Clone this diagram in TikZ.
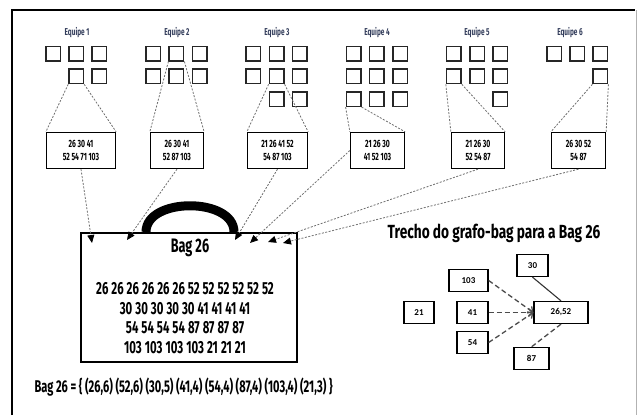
\documentclass[tikz,border=0pt]{standalone}
\usepackage{fontspec}
\usetikzlibrary{arrows.meta}
\newfontfamily\condfont[FakeStretch=0.65]{Fira Sans}
\newfontfamily\widefont[FakeStretch=0.72]{Fira Sans}
\newfontfamily\nodefont{Carlito}
\newcommand\bagnumfont{\condfont\bfseries\fontsize{17.5}{19.7}\selectfont\spaceskip 3pt\relax}
\definecolor{teamblue}{RGB}{52,62,92}
\definecolor{dashgray}{RGB}{110,110,110}
\tikzset{
  cell/.style={draw=black!85,line width=1.5pt,minimum size=14.5pt,inner sep=0pt},
  teamlabel/.style={text=teamblue,font=\condfont\bfseries\fontsize{10}{11}\selectfont},
  listbox/.style={draw,line width=1.3pt,minimum height=36pt,inner sep=1pt,align=center,
    font=\condfont\bfseries\fontsize{10.5}{13}\selectfont},
  feed/.style={dashgray,line width=0.8pt,dash pattern=on 2pt off 1.5pt},
  into/.style={feed,-{Triangle[length=8pt,width=7pt,black]}},
  gnode/.style={draw,line width=1.3pt,minimum height=22pt,inner sep=0pt,
    font=\nodefont\bfseries\fontsize{9}{10}\selectfont},
  gedge/.style={black!70,line width=1.3pt,dash pattern=on 5pt off 3pt},
}
\begin{document}
\begin{tikzpicture}[x=1pt,y=-1pt]
    \useasboundingbox (0,0) rectangle (637,415);

    %frame of the page
    \draw[line width=2pt] (12,415) -- (12,10) -- (635,10);
    \draw[black!30,line width=0.8pt] (636,10) -- (636,415);

    %the members of each team
    \foreach \t/\x in {1/77,2/177,3/277,4/377,5/477,6/570}
        \node[teamlabel] (e\t) at (\x,33) {Equipe \t};
    \foreach \t/\cells in {1/{1/0,1/1,1/2,2/1,2/2},
                           2/{1/0,1/1,1/2,2/0,2/1,2/2},
                           3/{1/0,1/1,1/2,2/0,2/1,2/2,3/1,3/2},
                           4/{1/0,1/1,1/2,2/0,2/1,2/2,3/0,3/1,3/2},
                           5/{1/0,1/1,1/2,2/0,2/1,2/2,3/2},
                           6/{1/0,1/1,1/2,2/2}}
        \foreach \r/\c in \cells
            \node[cell] (q\t-\r-\c) at ({53+100.2*(\t-1)+23.2*\c},{53.5+22.8*(\r-1)}) {};

    %lists of the chosen member
    \node[listbox,minimum width=69pt] (b1) at (81,150.5) {26 30 41\\52 54 71 103};
    \node[listbox,minimum width=53pt] (b2) at (177,150.5) {26 30 41\\52 87 103};
    \node[listbox,minimum width=60pt] (b3) at (277.5,150.5) {21 26 41 52\\54 87 103};
    \node[listbox,minimum width=54pt] (b4) at (377.5,150.5) {21 26 30\\41 52 103};
    \node[listbox,minimum width=53pt] (b5) at (478,150.5) {21 26 30\\52 54 87};
    \node[listbox,minimum width=54pt] (b6) at (578.5,150.5) {26 30 52\\54 87};

    \foreach \t/\r/\c in {1/2/1,2/1/1,3/2/1,4/3/0,5/2/0,6/2/2} {
        \draw[feed] (q\t-\r-\c.south west) -- (b\t.north west);
        \draw[feed] (q\t-\r-\c.south east) -- (b\t.north east);
    }

    %the bag
    \draw[line width=9pt] (146,232) .. controls (146,197) and (234,197) .. (234,232);
    \node[draw,fill=white,line width=2pt,minimum width=216pt,minimum height=129pt] (bag) at (189,297.5) {};
    \node[font=\condfont\bfseries\fontsize{19.5}{21}\selectfont] (bagtitle) at (190,248) {Bag 26};
    \node[align=center,font=\bagnumfont] (bagnums) at (185,318)
        {26 26 26 26 26 26 52 52 52 52 52 52\\30 30 30 30 30 41 41 41 41\\
         54 54 54 54 87 87 87 87\\103 103 103 103 21 21 21};

    %arrows into the bag
    \coordinate (t1) at (92,243);
    \coordinate (t2) at (127,240);
    \coordinate (t3) at (235,240);
    \coordinate (t4) at (250,243);
    \coordinate (t5) at (268,242);
    \coordinate (t6) at (283,243);
    \draw[into] (b1.south) -- (t1);
    \draw[into] (b2.south) -- (t2);
    \draw[into] (b3.south) -- (t3);
    \draw[into] (b4.west) -- (t4);
    \draw[into] (b5.south) -- (t5);
    \draw[into] (b6.south) -- (t6);

    \node[anchor=west,font=\condfont\bfseries\fontsize{17}{19}\selectfont] (bagset) at (31,387)
        {Bag 26 = \{ (26,6) (52,6) (30,5) (41,4) (54,4) (87,4) (103,4) (21,3) \}};

    %piece of the bag graph
    \node[font=\widefont\bfseries\fontsize{19}{21}\selectfont] (gtitle) at (494,233) {Trecho do grafo-bag para a Bag 26};
    \node[gnode,minimum width=31pt] (n30) at (532.5,265.5) {30};
    \node[gnode,minimum width=39pt] (n103) at (468.5,280.5) {103};
    \node[gnode,minimum width=30pt] (n21) at (419,312.5) {21};
    \node[gnode,minimum width=31pt] (n41) at (472.5,312.5) {41};
    \node[gnode,minimum width=54pt] (n2652) at (561,312.5) {26,52};
    \node[gnode,minimum width=31pt] (n54) at (472.5,342.5) {54};
    \node[gnode,minimum width=35pt] (n87) at (531.5,358.5) {87};

    \draw[black!80,line width=1.1pt] (n30.south) -- (n2652.north);
    \draw[gedge,-{Straight Barb[length=4pt,width=8pt]}] (n103.east) -- (n2652.west);
    \draw[gedge,-{Straight Barb[length=4pt,width=8pt]}] (n41.east) -- (n2652.west);
    \draw[gedge,-{Straight Barb[length=4pt,width=8pt]}] (n54.east) -- (n2652.west);
    \draw[gedge] (n2652.south) -- (n87.north);

\end{tikzpicture}
\end{document}
